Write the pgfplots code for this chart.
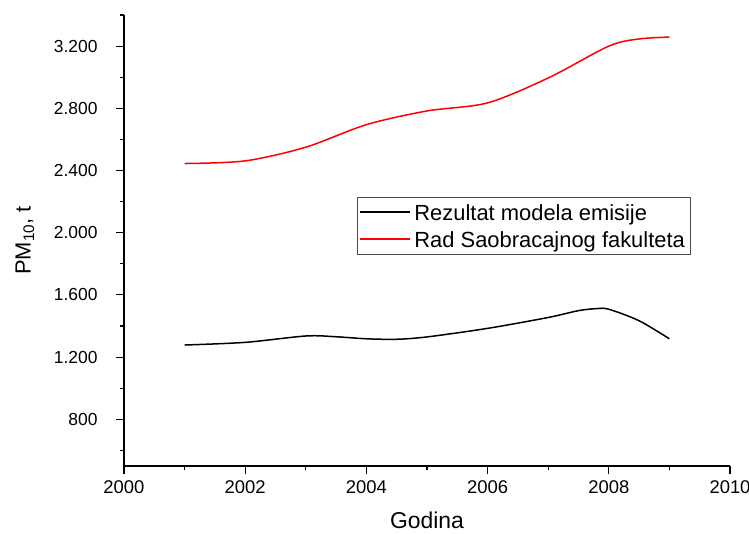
\documentclass[border=0pt]{standalone}
\usepackage{fontspec}
\setmainfont{Liberation Sans}
\usepackage{pgfplots}
\pgfplotsset{compat=1.18}
\usetikzlibrary{calc}
\begin{document}
\begin{tikzpicture}
\begin{axis}[
 name=ax,
 scale only axis,
 width=606bp, height=451bp,
 xmin=2000, xmax=2010, ymin=500, ymax=3400,
 axis x line*=bottom, axis y line*=left,
 axis line style={line width=1.3bp, -},
 tick align=outside,
 major tick length=8bp, minor tick length=4bp,
 tick style={line width=1.1bp, black},
 xtick={2000,2002,...,2010},
 minor xtick={2001,2003,...,2009},
 ytick={800,1200,...,3200},
 minor ytick={600,1000,...,3400},
 /pgf/number format/assume math mode=true,
 xticklabel style={font=\fontsize{18.5}{18.5}\selectfont, yshift=-3bp, /pgf/number format/1000 sep={}},
 yticklabel style={font=\fontsize{17.5}{17.5}\selectfont, xshift=-15bp, /pgf/number format/1000 sep={.}},
 xlabel={Godina},
 ylabel={PM\textsubscript{10}, t},
 xlabel style={font=\fontsize{23}{23}\selectfont, at={(axis description cs:0.5,-0.1197)}, anchor=center},
 ylabel style={font=\fontsize{22}{22}\selectfont, at={(axis description cs:-0.1634,0.5)}, anchor=center},
 legend style={at={(rel axis cs:0.3845,0.5965)}, anchor=north west, draw=black!70, line width=0.8bp,
   font=\fontsize{22}{22}\selectfont, inner xsep=2bp, inner ysep=1.5bp, row sep=0bp,
   nodes={text height=20bp, text depth=3bp, inner ysep=2bp, inner xsep=3bp}},
 legend cell align=left,
 legend image code/.code={\draw[#1, line width=2bp] (0bp,0bp) -- (50bp,0bp);},
]
\addplot[black, line width=1.5bp, smooth] coordinates {
 (2001,1278) (2002,1295) (2003,1336) (2003.5,1331) (2004,1318) (2004.5,1315) (2005,1330)
 (2006,1385) (2007,1455) (2007.5,1499) (2007.8,1512) (2008,1508) (2008.5,1434) (2009,1318)};
\addlegendentry{Rezultat modela emisije}
\addplot[red, line width=1.5bp, smooth] coordinates {
 (2001,2445) (2002,2462) (2003,2550) (2004,2695) (2005,2783) (2006,2835)
 (2007,2995) (2008,3200) (2008.5,3246) (2009,3258)};
\addlegendentry{Rad Saobracajnog fakulteta}
\end{axis}
\pgfresetboundingbox
\path[use as bounding box] ($(ax.south west)+(-124bp,-68bp)$) rectangle ($(ax.north east)+(19bp,15bp)$);
\end{tikzpicture}
\end{document}
